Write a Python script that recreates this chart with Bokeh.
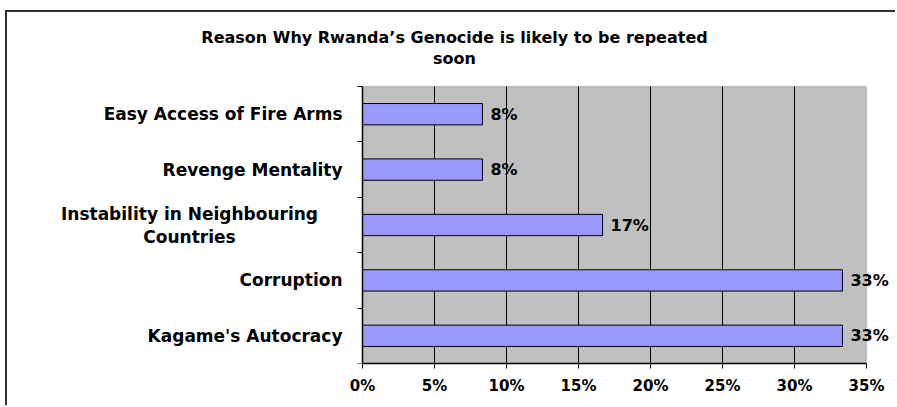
from bokeh.plotting import figure
from bokeh.models import (Range1d, FixedTicker, ColumnDataSource, LabelSet, Label,
                          BoxAnnotation, LinearAxis)
from bokeh.core.properties import value
from bokeh.embed import file_html
from bokeh.resources import INLINE

# ---- data ----
categories = ["Kagame's Autocracy", "Corruption",
              "Instability in Neighbouring\nCountries",
              "Revenge Mentality", "Easy Access of Fire Arms"]
percent_values = [33.33, 33.33, 16.67, 8.33, 8.33]
value_labels = ["33%", "33%", "17%", "8%", "8%"]
x_ticks = [0, 5, 10, 15, 20, 25, 30, 35]
x_tick_labels = ["0%", "5%", "10%", "15%", "20%", "25%", "30%", "35%"]
title_lines = ["Reason Why Rwanda\u2019s Genocide is likely to be repeated", "soon"]

# ---- layout (pixels, page coordinates) ----
PW, PH = 897, 407
OX, OY = 7, 12                     # canvas origin on the page (inside border)
PL, PR, PT, PB = 362, 866, 86, 363  # grey plot area
W, H = PW - OX, PH - OY
XMAX = 35
N = len(categories)
px_x = (PR - PL) / XMAX
px_y = (PB - PT) / N
FONT = "DejaVu Sans"

p = figure(width=W, height=H, output_backend="svg", toolbar_location=None,
           title=None, y_axis_location=None,
           x_range=Range1d((OX - PL) / px_x, (PW - PL) / px_x),
           y_range=Range1d(0, N + (PT - OY) / px_y),
           min_border_left=0, min_border_right=0,
           min_border_top=0, min_border_bottom=PH - PB)
p.styles = {"margin-left": "5px", "margin-top": "10px",
            "border-left": "2px solid #333333", "border-top": "2px solid #333333"}
p.background_fill_color = "white"
p.border_fill_color = "white"
p.outline_line_color = None
p.grid.visible = False

# grey plot area
p.add_layout(BoxAnnotation(left=0, right=XMAX, bottom=0, top=N,
                           fill_color="#C0C0C0", fill_alpha=1,
                           line_color="#808080", line_width=1.5, level="image"))

# vertical grid lines at the inner x ticks
grid_src = ColumnDataSource(dict(x=x_ticks[1:-1]))
p.segment(x0="x", x1="x", y0=0, y1=N, source=grid_src, line_color="black", line_width=1)

pos = [i + 0.5 for i in range(N)]  # band centres
src = ColumnDataSource(dict(pos=pos, val=percent_values, lab=value_labels))
p.hbar(y="pos", right="val", left=0, height=0.385, source=src,
       fill_color="#9999FF", line_color="black", line_width=1)

# x axis
xa = p.xaxis[0]
xa.bounds = (0, XMAX)
xa.ticker = FixedTicker(ticks=x_ticks)
xa.major_label_overrides = {t: l for t, l in zip(x_ticks, x_tick_labels)}
xa.major_label_text_font = FONT
xa.major_label_text_font_style = "bold"
xa.major_label_text_font_size = "15px"
xa.major_label_text_color = "black"
xa.axis_line_color = "black"
xa.axis_line_width = 1.5
xa.major_tick_line_color = "black"
xa.major_tick_out = 5
xa.major_tick_in = 0
xa.minor_tick_line_color = None
xa.major_label_standoff = 8

# y axis at x = 0 with ticks at the category band boundaries
ya = LinearAxis(fixed_location=0, bounds=(0, N),
                ticker=FixedTicker(ticks=list(range(N + 1))),
                major_label_text_font_size="0px", major_label_standoff=0,
                major_tick_out=5, major_tick_in=0, minor_tick_line_color=None,
                axis_line_color="black", axis_line_width=1.5,
                major_tick_line_color="black")
p.add_layout(ya, "left")

# value labels
p.add_layout(LabelSet(x="val", y="pos", text="lab", source=src, x_offset=8,
                      text_font=value(FONT), text_font_style="bold", text_font_size="16px",
                      text_baseline="middle", text_color="black"))

# category labels (right-aligned block, multi-line centred)
for y, lab in zip(pos, categories):
    multi = "\n" in lab
    p.add_layout(Label(x=0, y=y, text=lab,
                       x_offset=-173 if multi else -20,
                       text_align="center" if multi else "right",
                       text_baseline="middle", text_line_height=1.15,
                       text_font=FONT, text_font_style="bold",
                       text_font_size="17px", text_color="black"))

# title (two lines), centred on the chart
cx = (454 - PL) / px_x
for line, base in zip(title_lines, [37, 58]):
    p.add_layout(Label(x=cx, y=N + (PT - base) / px_y, text=line,
                       text_align="center", text_baseline="alphabetic",
                       text_font=FONT, text_font_style="bold",
                       text_font_size="16px", text_color="black"))

open("out.html", "w").write(file_html(p, INLINE))
